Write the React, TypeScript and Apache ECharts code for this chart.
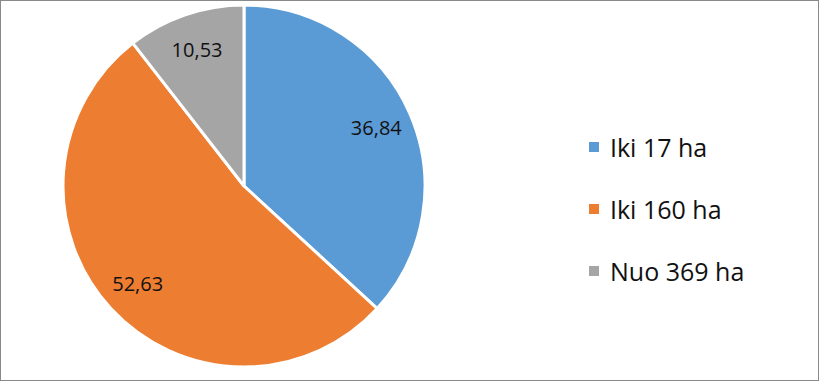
import React, { useEffect, useRef } from "react";
import * as echarts from "echarts";

const categories = ["Iki 17 ha", "Iki 160 ha", "Nuo 369 ha"];
const values = [36.84, 52.63, 10.53];
const labels = ["36,84", "52,63", "10,53"];
const colors = ["#5B9BD5", "#ED7D31", "#A5A5A5"];

export default function App() {
  const ref = useRef<HTMLDivElement>(null);
  useEffect(() => {
    if (!ref.current) return;
    const chart = echarts.init(ref.current, undefined, { renderer: "svg" });
    const data = categories.map((name, i) => ({
      name,
      value: values[i],
      itemStyle: { color: colors[i] },
    }));
    chart.setOption({
      animation: false,
      legend: {
        orient: "vertical",
        left: 587,
        top: 134,
        padding: 0,
        itemWidth: 12,
        itemHeight: 12,
        itemGap: 36,
        icon: "rect",
        data: categories,
        textStyle: {
          fontFamily: "Open Sans",
          fontSize: 25,
          lineHeight: 26,
          color: "#111",
          padding: [0, 0, 0, 5],
        },
      },
      series: [
        {
          type: "pie",
          center: [244, 186],
          radius: [0, 181],
          startAngle: 90,
          clockwise: true,
          data,
          label: { show: false },
          labelLine: { show: false },
          itemStyle: { borderColor: "#fff", borderWidth: 3 },
          emphasis: { disabled: true },
          silent: true,
        },
        {
          type: "pie",
          center: [244, 186],
          radius: [102, 181],
          startAngle: 90,
          clockwise: true,
          data: categories.map((name, i) => ({
            name: name + " ",
            value: values[i],
            itemStyle: { color: "rgba(0,0,0,0)" },
          })),
          label: {
            show: true,
            position: "inside",
            formatter: (p: any) => labels[p.dataIndex],
            fontFamily: "Open Sans",
            fontSize: 20,
            color: "#111",
          },
          labelLine: { show: false },
          emphasis: { disabled: true },
          silent: true,
        },
      ],
    });
    return () => chart.dispose();
  }, []);
  return (
    <div
      style={{
        position: "fixed",
        left: 0,
        top: 0,
        width: 819,
        height: 381,
        border: "1px solid #898989",
        boxSizing: "border-box",
        background: "#fff",
      }}
    >
      <div ref={ref} style={{ position: "absolute", left: -1, top: -1, width: 820, height: 382 }} />
    </div>
  );
}
